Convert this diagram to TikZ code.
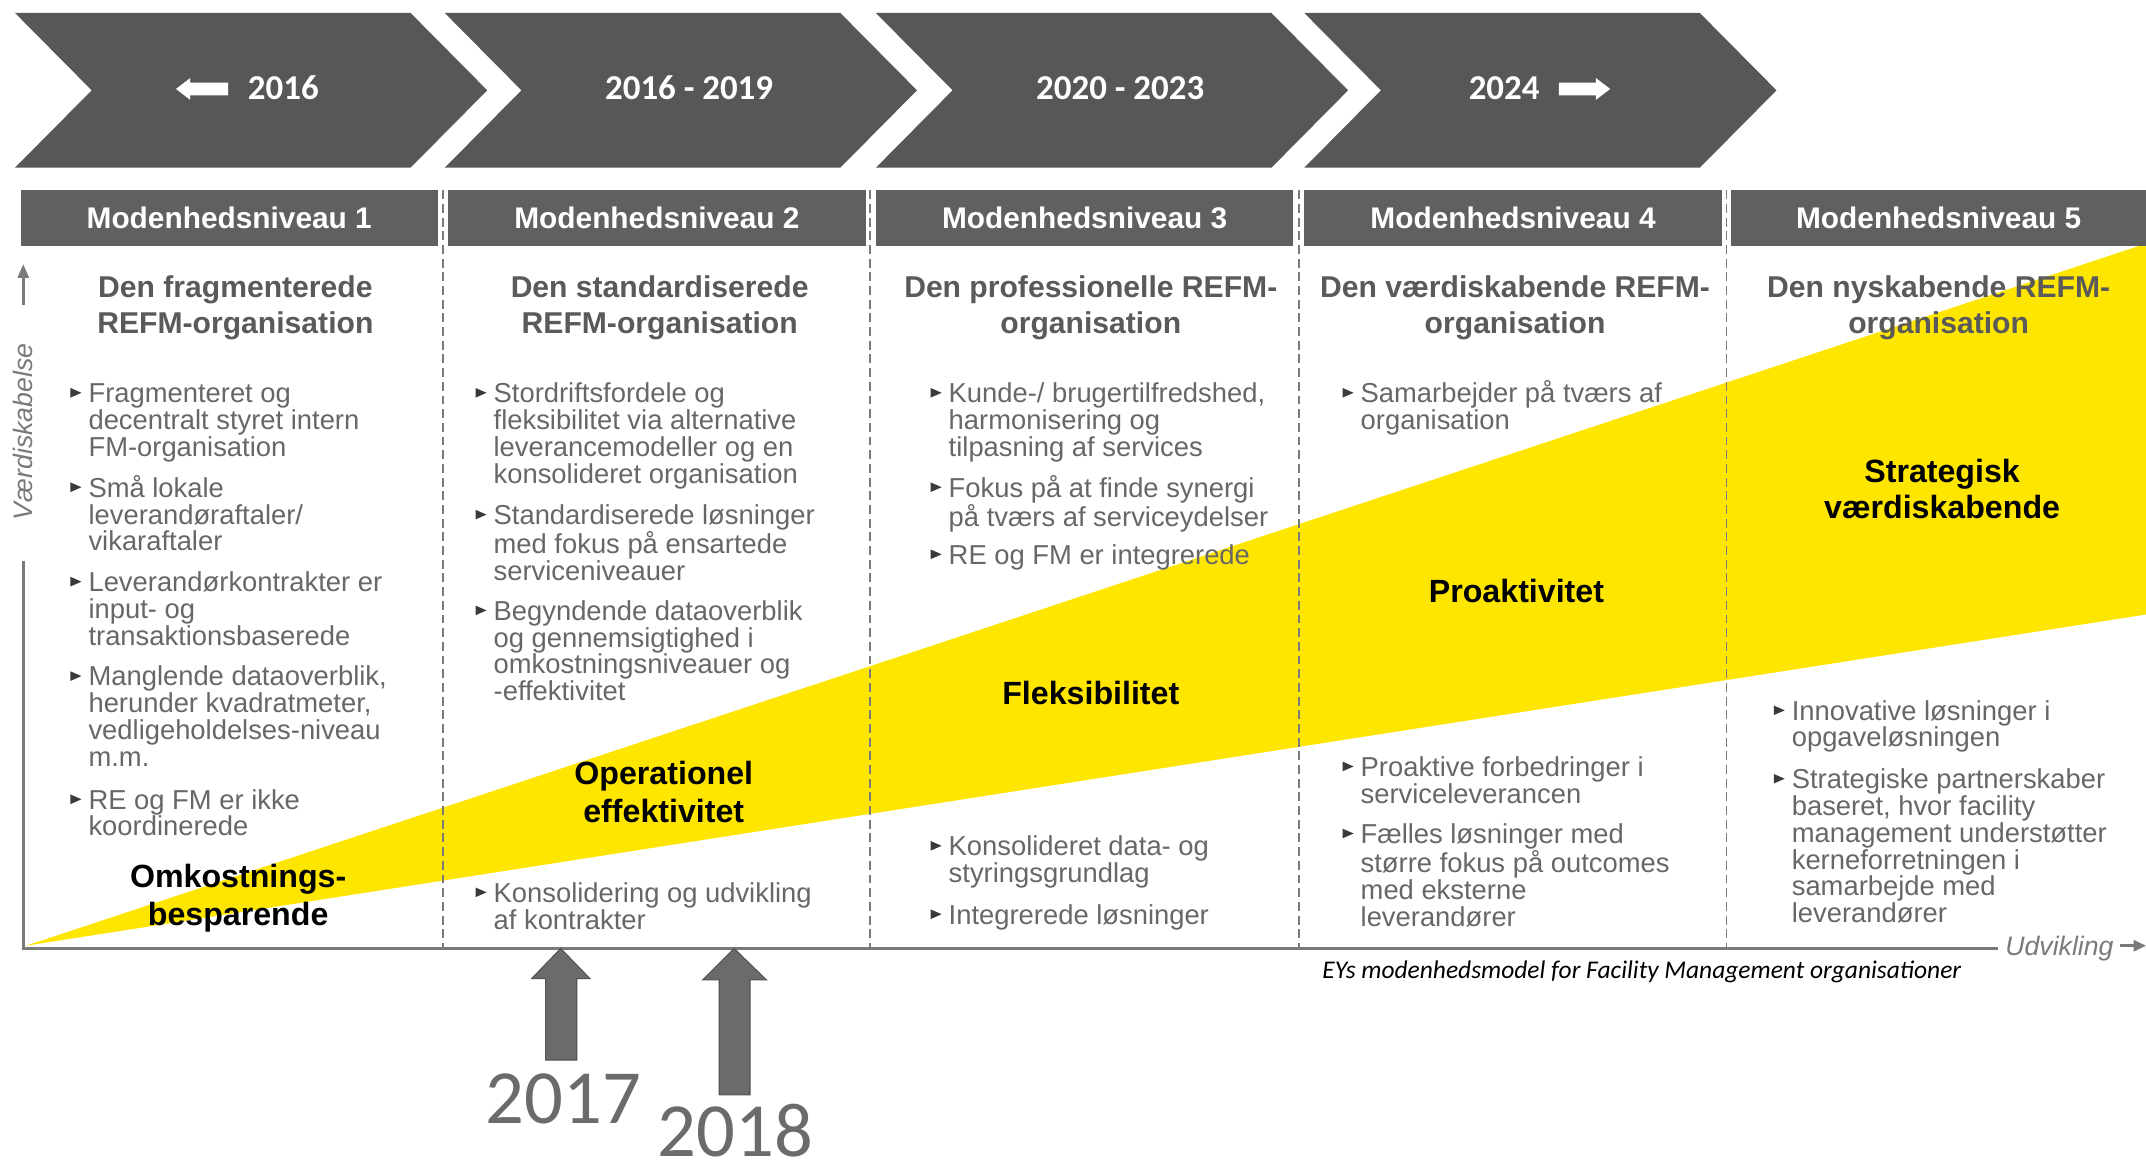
\documentclass[tikz,border=0pt]{standalone}
\usepackage{fontspec}
\setmainfont{Liberation Sans}
\newfontfamily\calfont{Carlito}
\usetikzlibrary{arrows.meta}
\definecolor{chev}{HTML}{575757}
\definecolor{hdr}{HTML}{606060}
\definecolor{ttl}{HTML}{5A5A5A}
\definecolor{itc}{HTML}{676767}
\definecolor{bulc}{HTML}{3A3A3A}
\definecolor{eyy}{HTML}{FFE600}
\definecolor{axc}{HTML}{7A7A7A}
\definecolor{yrc}{HTML}{6C6A6A}
\definecolor{yrd}{HTML}{555353}
\newcommand\itm[4]{%
  \node[itemtxt] (#1) at (#2,#3-16) {\rule{0pt}{16pt}#4};
  \fill[bulc] (#2-13,#3-3.5) -- (#2-13,#3-10.5) -- (#2-5,#3-7) -- cycle;}
\begin{document}
\begin{tikzpicture}[x=1pt,y=-1pt,
  itemtxt/.style={anchor=north west, inner sep=0pt, align=left, text=itc, font=\fontsize{20}{19.6}\selectfont},
  ttlnode/.style={anchor=north, inner sep=0pt, align=center, text=ttl, font=\bfseries\fontsize{22}{26.5}\selectfont},
  wedgelbl/.style={anchor=north, inner sep=0pt, align=center, text=black, font=\bfseries\fontsize{23.5}{28}\selectfont},
  wedgeone/.style={anchor=base, inner sep=0pt, text=black, font=\bfseries\fontsize{23.5}{28}\selectfont},
  hdrlbl/.style={anchor=base, inner sep=0pt, text=white, font=\bfseries\fontsize{21.8}{21.8}\selectfont},
  chevlbl/.style={anchor=base, inner sep=0pt, text=white, font=\calfont\bfseries\fontsize{25.5}{25.5}\selectfont},
  sep/.style={draw=axc, line width=1.4pt, dash pattern=on 6.5pt off 3.5pt},
  axis/.style={draw=axc, line width=2pt},
  axlbl/.style={inner sep=0pt, text=axc, font=\itshape\fontsize{19.5}{19.5}\selectfont},
  yrlbl/.style={anchor=base, inner sep=0pt, text=yrc, font=\calfont\fontsize{56}{56}\selectfont},
  yrarrow/.style={fill=yrc, draw=yrd, line width=0.8pt}
]
\useasboundingbox (0,0) rectangle (1568,850);
\fill[white] (0,0) rectangle (1568,850);

% yellow wedge
\coordinate (O) at (17,693);
\coordinate (apex) at (19,691);
\fill[eyy] (apex) -- (1568,178) -- (1568,449) -- cycle;

% dashed separators
\foreach \x/\n in {323.5/1,636/2,949/3,1261.5/4}{
  \coordinate (st\n) at (\x,139);
  \coordinate (sb\n) at (\x,693);
  \draw[sep] (st\n) -- (sb\n);
}

% axes
\coordinate (xend) at (1460,693);
\coordinate (ybot) at (17,410);
\draw[axis] (ybot) -- (O) -- (xend);
\coordinate (yarrS) at (17,223);
\coordinate (yarrE) at (17,193);
\draw[axis, -{Triangle[width=8pt,length=10pt]}] (yarrS) -- (yarrE);
\node[axlbl, rotate=90] (vlbl) at (17,315.5) {Værdiskabelse};
\node[axlbl, anchor=base west] (hlbl) at (1465,698) {Udvikling};
\coordinate (xarrS) at (1549,691);
\coordinate (xarrE) at (1568,691);
\draw[axis, -{Triangle[width=8pt,length=9pt]}] (xarrS) -- (xarrE);

% header boxes
\foreach \l/\r/\n in {15/320/1,327/633/2,640/945/3,953/1258/4,1265/1568/5}{
  \fill[hdr] (\l,139) rectangle (\r,180);
  \node[hdrlbl] (h\n) at ({(\l+\r)/2},166.7) {Modenhedsniveau \n};
}

% chevrons
\foreach \L in {11,325,640,953}{
  \fill[chev] (\L,9.5) -- ++(289,0) -- ++(56,56.5) -- ++(-56,56.5) -- ++(-289,0) -- ++(56,-56.5) -- cycle;
}
\node[chevlbl] (c1) at (207,73) {2016};
\node[chevlbl] (c2) at (503.5,73) {2016 - 2019};
\node[chevlbl] (c3) at (818.5,73) {2020 - 2023};
\node[chevlbl] (c4) at (1099,73) {2024};
\fill[white] (128.6,65) -- (139,57) -- (139,60.3) -- (166.6,60.3) -- (166.6,69.7) -- (139,69.7) -- (139,73) -- cycle;
\fill[white] (1176.5,65) -- (1166,57) -- (1166,60.3) -- (1139,60.3) -- (1139,69.7) -- (1166,69.7) -- (1166,73) -- cycle;

% titles
\node[ttlnode] (t1) at (172,199) {\rule{0pt}{18pt}Den fragmenterede\\REFM-organisation};
\node[ttlnode] (t2) at (482,199) {\rule{0pt}{18pt}Den standardiserede\\REFM-organisation};
\node[ttlnode] (t3) at (797,199) {\rule{0pt}{18pt}Den professionelle REFM-\\organisation};
\node[ttlnode] (t4) at (1107,199) {\rule{0pt}{18pt}Den værdiskabende REFM-\\organisation};
\node[ttlnode] (t5) at (1416.5,199) {\rule{0pt}{18pt}Den nyskabende REFM-\\organisation};

% column 1
\itm{a1}{64.5}{294}{Fragmenteret og\\decentralt styret intern\\FM-organisation}
\itm{a2}{64.5}{363}{Små lokale\\leverandøraftaler/\\vikaraftaler}
\itm{a3}{64.5}{432}{Leverandørkontrakter er\\input- og\\transaktionsbaserede}
\itm{a4}{64.5}{501}{Manglende dataoverblik,\\herunder kvadratmeter,\\vedligeholdelses-niveau\\m.m.}
\itm{a5}{64.5}{591}{RE og FM er ikke\\koordinerede}
% column 2
\itm{b1}{360.5}{294}{Stordriftsfordele og\\fleksibilitet via alternative\\leverancemodeller og en\\konsolideret organisation}
\itm{b2}{360.5}{383}{Standardiserede løsninger\\med fokus på ensartede\\serviceniveauer}
\itm{b3}{360.5}{453}{Begyndende dataoverblik\\og gennemsigtighed i\\omkostningsniveauer og\\-effektivitet}
\itm{b4}{360.5}{659}{Konsolidering og udvikling\\af kontrakter}
% column 3
\itm{d1}{693}{294}{Kunde-/ brugertilfredshed,\\harmonisering og\\tilpasning af services}
\itm{d2}{693}{363}{Fokus på at finde synergi\\på tværs af serviceydelser}
\itm{d3}{693}{412}{RE og FM er integrerede}
\itm{d4}{693}{625}{Konsolideret data- og\\styringsgrundlag}
\itm{d5}{693}{675}{Integrerede løsninger}
% column 4
\itm{e1}{994}{294}{Samarbejder på tværs af\\organisation}
\itm{e2}{994}{567}{Proaktive forbedringer i\\serviceleverancen}
\itm{e3}{994}{616}{Fælles løsninger med\\større fokus på outcomes\\med eksterne\\leverandører}
% column 5
\itm{f1}{1309}{526}{Innovative løsninger i\\opgaveløsningen}
\itm{f2}{1309}{576}{Strategiske partnerskaber\\baseret, hvor facility\\management understøtter\\kerneforretningen i\\samarbejde med\\leverandører}

% wedge labels
\node[wedgelbl] (w1) at (174,628) {\rule{0pt}{20pt}Omkostnings-\\besparende};
\node[wedgelbl] (w2) at (485,553) {\rule{0pt}{20pt}Operationel\\effektivitet};
\node[wedgeone] (w3) at (797,515) {Fleksibilitet};
\node[wedgeone] (w4) at (1108,440.5) {Proaktivitet};
\node[wedgelbl, font=\bfseries\fontsize{23.5}{27}\selectfont] (w5) at (1419,332) {\rule{0pt}{20pt}Strategisk\\værdiskabende};

% year arrows
\fill[yrarrow] (409.7,693) -- (431,715) -- (421.4,715) -- (421.4,774.5) -- (398.7,774.5) -- (398.7,715) -- (388.5,715) -- cycle;
\fill[yrarrow] (536.4,693) -- (560,716) -- (548,716) -- (548,800) -- (525.5,800) -- (525.5,716) -- (513.4,716) -- cycle;
\node[yrlbl] (y17) at (411.5,820.6) {2017};
\node[yrlbl] (y18) at (537.5,845) {2018};

% caption
\node[anchor=base west, inner sep=0pt, font=\calfont\itshape\fontsize{18.6}{18.6}\selectfont] (cap) at (966,715) {EYs modenhedsmodel for Facility Management organisationer};
\end{tikzpicture}
\end{document}
